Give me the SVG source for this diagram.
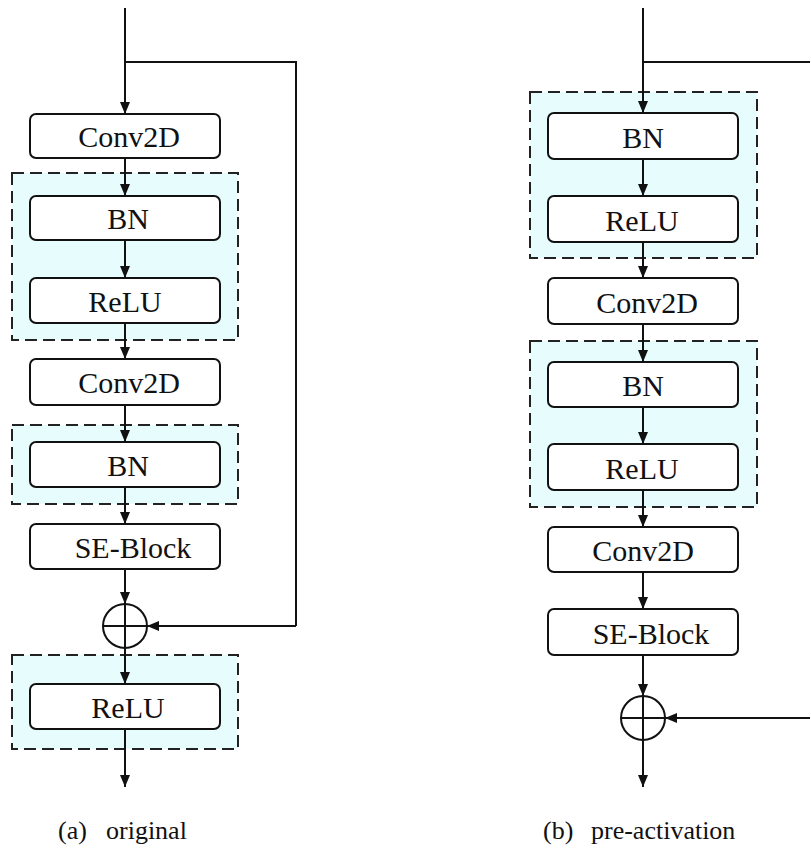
<svg xmlns="http://www.w3.org/2000/svg" width="810" height="848" viewBox="0 0 810 848">
<style>
.grp{fill:#e6fcfd;stroke:#222;stroke-width:2;stroke-dasharray:12 6}
.box{fill:#fff;stroke:#111;stroke-width:2}
.lbl{font-family:"Liberation Serif","Times New Roman",serif;font-size:30px;fill:#111;text-anchor:middle}
.cap{font-family:"Liberation Serif","Times New Roman",serif;font-size:26px;fill:#111}
.ln{fill:none;stroke:#111;stroke-width:2}
.arr{fill:none;stroke:#111;stroke-width:2;marker-end:url(#ah)}
</style>
<defs>
<marker id="ah" markerUnits="userSpaceOnUse" markerWidth="12" markerHeight="10" refX="12" refY="5" orient="auto">
<path d="M0,0 L12,5 L0,10 z" fill="#111"/>
</marker>
</defs>
<rect width="810" height="848" fill="#fff"/>
<g id="groups">
<rect class="grp" x="12" y="173" width="226" height="167"/>
<rect class="grp" x="12" y="425" width="226" height="79"/>
<rect class="grp" x="12" y="655" width="226" height="94"/>
<rect class="grp" x="530" y="92" width="227" height="166"/>
<rect class="grp" x="530" y="341" width="227" height="166"/>
</g>
<g id="connectors">
<line class="arr" x1="125" y1="8" x2="125" y2="114"/>
<polyline class="ln" points="125,62 296,62 296,626"/>
<line class="arr" x1="296" y1="626" x2="147" y2="626"/>
<line class="arr" x1="125" y1="158" x2="125" y2="196"/>
<line class="arr" x1="125" y1="240" x2="125" y2="278"/>
<line class="arr" x1="125" y1="323" x2="125" y2="359"/>
<line class="arr" x1="125" y1="405" x2="125" y2="442"/>
<line class="arr" x1="125" y1="487" x2="125" y2="524"/>
<line class="arr" x1="125" y1="569" x2="125" y2="604"/>
<line class="arr" x1="125" y1="648" x2="125" y2="684"/>
<line class="arr" x1="125" y1="729" x2="125" y2="787"/>
<line class="arr" x1="643" y1="8" x2="643" y2="113"/>
<line class="ln" x1="643" y1="62" x2="812" y2="62"/>
<line class="arr" x1="812" y1="718" x2="665" y2="718"/>
<line class="arr" x1="643" y1="159" x2="643" y2="196"/>
<line class="arr" x1="643" y1="242" x2="643" y2="278"/>
<line class="arr" x1="643" y1="324" x2="643" y2="362"/>
<line class="arr" x1="643" y1="407" x2="643" y2="444"/>
<line class="arr" x1="643" y1="490" x2="643" y2="527"/>
<line class="arr" x1="643" y1="572" x2="643" y2="609"/>
<line class="arr" x1="643" y1="655" x2="643" y2="696"/>
<line class="arr" x1="643" y1="740" x2="643" y2="787"/>
</g>
<g id="a-conv1"><rect class="box" x="30" y="114" width="190" height="44" rx="6"/><text class="lbl" x="129" y="147">Conv2D</text></g>
<g id="a-bn1"><rect class="box" x="30" y="196" width="190" height="44" rx="6"/><text class="lbl" x="128" y="229">BN</text></g>
<g id="a-relu1"><rect class="box" x="30" y="278" width="190" height="45" rx="6"/><text class="lbl" x="125" y="312">ReLU</text></g>
<g id="a-conv2"><rect class="box" x="30" y="359" width="190" height="46" rx="6"/><text class="lbl" x="129" y="393">Conv2D</text></g>
<g id="a-bn2"><rect class="box" x="30" y="442" width="190" height="45" rx="6"/><text class="lbl" x="128" y="476">BN</text></g>
<g id="a-se"><rect class="box" x="30" y="524" width="190" height="45" rx="6"/><text class="lbl" x="133" y="558">SE-Block</text></g>
<g id="a-add"><circle cx="125" cy="626" r="22" fill="#fff" stroke="#111" stroke-width="2"/><path class="ln" d="M125,604 V648 M103,626 H147"/></g>
<g id="a-relu2"><rect class="box" x="30" y="684" width="190" height="45" rx="6"/><text class="lbl" x="128" y="718">ReLU</text></g>
<g id="b-bn1"><rect class="box" x="548" y="113" width="190" height="46" rx="6"/><text class="lbl" x="643" y="148">BN</text></g>
<g id="b-relu1"><rect class="box" x="548" y="196" width="190" height="46" rx="6"/><text class="lbl" x="642" y="231">ReLU</text></g>
<g id="b-conv1"><rect class="box" x="548" y="278" width="190" height="46" rx="6"/><text class="lbl" x="647" y="313">Conv2D</text></g>
<g id="b-bn2"><rect class="box" x="548" y="362" width="190" height="45" rx="6"/><text class="lbl" x="643" y="396">BN</text></g>
<g id="b-relu2"><rect class="box" x="548" y="444" width="190" height="46" rx="6"/><text class="lbl" x="642" y="479">ReLU</text></g>
<g id="b-conv2"><rect class="box" x="548" y="527" width="190" height="45" rx="6"/><text class="lbl" x="643" y="561">Conv2D</text></g>
<g id="b-se"><rect class="box" x="548" y="609" width="190" height="46" rx="6"/><text class="lbl" x="651" y="644">SE-Block</text></g>
<g id="b-add"><circle cx="643" cy="718" r="22" fill="#fff" stroke="#111" stroke-width="2"/><path class="ln" d="M643,696 V740 M621,718 H665"/></g>
<g id="captions">
<text class="cap" x="58" y="839">(a)</text><text class="cap" x="106" y="839">original</text>
<text class="cap" x="543" y="839">(b)</text><text class="cap" x="591" y="839">pre-activation</text>
</g>
</svg>
